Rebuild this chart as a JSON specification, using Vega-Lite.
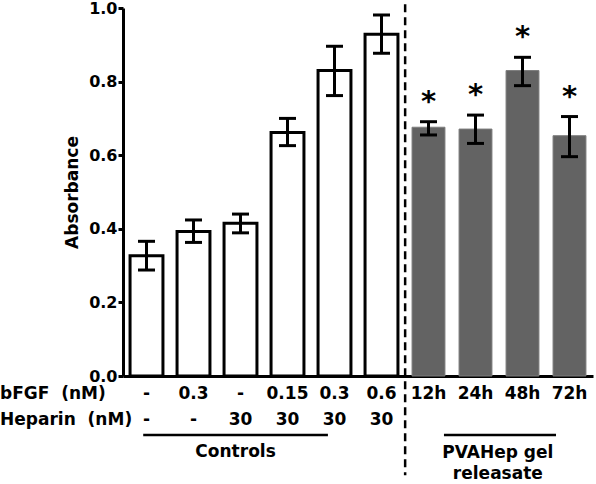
{
  "$schema": "https://vega.github.io/schema/vega-lite/v6.json",
  "width": 470,
  "height": 368,
  "padding": {"left": 0, "right": 3, "top": 0, "bottom": 0},
  "config": {
    "view": {"stroke": null},
    "font": "DejaVu Sans",
    "text": {"font": "DejaVu Sans", "fontWeight": "bold", "fontSize": 17, "color": "#000000"}
  },
  "datasets": {
    "bars": [
      {"id": "1", "group": "Controls", "mean": 0.327, "lo": 0.288, "hi": 0.366, "bfgf": "-", "heparin": "-", "star": false},
      {"id": "2", "group": "Controls", "mean": 0.393, "lo": 0.363, "hi": 0.424, "bfgf": "0.3", "heparin": "-", "star": false},
      {"id": "3", "group": "Controls", "mean": 0.415, "lo": 0.389, "hi": 0.44, "bfgf": "-", "heparin": "30", "star": false},
      {"id": "4", "group": "Controls", "mean": 0.662, "lo": 0.626, "hi": 0.7, "bfgf": "0.15", "heparin": "30", "star": false},
      {"id": "5", "group": "Controls", "mean": 0.83, "lo": 0.762, "hi": 0.896, "bfgf": "0.3", "heparin": "30", "star": false},
      {"id": "6", "group": "Controls", "mean": 0.929, "lo": 0.877, "hi": 0.981, "bfgf": "0.6", "heparin": "30", "star": false},
      {"id": "7", "group": "PVAHep", "mean": 0.676, "lo": 0.655, "hi": 0.691, "bfgf": "12h", "heparin": "", "star": true},
      {"id": "8", "group": "PVAHep", "mean": 0.671, "lo": 0.632, "hi": 0.709, "bfgf": "24h", "heparin": "", "star": true},
      {"id": "9", "group": "PVAHep", "mean": 0.83, "lo": 0.789, "hi": 0.866, "bfgf": "48h", "heparin": "", "star": true},
      {"id": "10", "group": "PVAHep", "mean": 0.653, "lo": 0.596, "hi": 0.705, "bfgf": "72h", "heparin": "", "star": true}
    ]
  },
  "layer": [
    {
      "data": {"name": "bars"},
      "mark": {"type": "bar"},
      "encoding": {
        "x": {
          "field": "id", "type": "nominal", "sort": null,
          "scale": {"domain": ["1","2","3","4","5","6","7","8","9","10"], "paddingInner": 0.3, "paddingOuter": 0.15},
          "axis": {"labels": false, "ticks": false, "title": null, "domainWidth": 3, "domainColor": "#000000"}
        },
        "y": {
          "field": "mean", "type": "quantitative",
          "scale": {"domain": [0, 1], "nice": false},
          "axis": {
            "title": "Absorbance", "values": [0, 0.2, 0.4, 0.6, 0.8, 1.0], "format": ".1f", "grid": false,
            "domainWidth": 3, "domainColor": "#000000", "tickWidth": 3, "tickSize": 5, "tickColor": "#000000",
            "labelFont": "DejaVu Sans", "labelFontWeight": "bold", "labelFontSize": 16, "labelColor": "#000000", "labelPadding": 1,
            "titleFont": "DejaVu Sans", "titleFontWeight": "bold", "titleFontSize": 17, "titleColor": "#000000", "titlePadding": 7
          }
        },
        "fill": {"field": "group", "type": "nominal", "scale": {"domain": ["Controls", "PVAHep"], "range": ["#ffffff", "#636363"]}, "legend": null},
        "stroke": {"field": "group", "type": "nominal", "scale": {"domain": ["Controls", "PVAHep"], "range": ["#000000", "#7d7d7d"]}, "legend": null},
        "strokeWidth": {"condition": {"test": "datum.group === 'Controls'", "value": 3}, "value": 1}
      }
    },
    {
      "data": {"name": "bars"},
      "mark": {"type": "rule", "color": "#000000", "strokeWidth": 3},
      "encoding": {
        "x": {"field": "id", "type": "nominal"},
        "y": {"field": "lo", "type": "quantitative", "scale": {"domain": [0, 1], "nice": false}},
        "y2": {"field": "hi"}
      }
    },
    {
      "data": {"name": "bars"},
      "mark": {"type": "tick", "color": "#000000", "size": 17, "thickness": 3, "opacity": 1},
      "encoding": {
        "x": {"field": "id", "type": "nominal"},
        "y": {"field": "lo", "type": "quantitative", "scale": {"domain": [0, 1], "nice": false}}
      }
    },
    {
      "data": {"name": "bars"},
      "mark": {"type": "tick", "color": "#000000", "size": 17, "thickness": 3, "opacity": 1},
      "encoding": {
        "x": {"field": "id", "type": "nominal"},
        "y": {"field": "hi", "type": "quantitative", "scale": {"domain": [0, 1], "nice": false}}
      }
    },
    {
      "data": {"name": "bars"},
      "transform": [{"filter": "datum.star"}],
      "mark": {"type": "text", "fontSize": 29, "baseline": "alphabetic", "dy": -11},
      "encoding": {
        "x": {"field": "id", "type": "nominal"},
        "y": {"field": "hi", "type": "quantitative", "scale": {"domain": [0, 1], "nice": false}},
        "text": {"value": "*"}
      }
    },
    {
      "data": {"name": "bars"},
      "mark": {"type": "text", "baseline": "middle", "dy": 2},
      "encoding": {
        "x": {"field": "id", "type": "nominal"},
        "y": {"datum": -0.0435, "type": "quantitative", "scale": {"domain": [0, 1], "nice": false}},
        "text": {"field": "bfgf"}
      }
    },
    {
      "data": {"name": "bars"},
      "mark": {"type": "text", "baseline": "middle", "dy": 1},
      "encoding": {
        "x": {"field": "id", "type": "nominal"},
        "y": {"datum": -0.117, "type": "quantitative", "scale": {"domain": [0, 1], "nice": false}},
        "text": {"field": "heparin"}
      }
    },
    {
      "data": {"values": [{"t": "bFGF\u00a0 (nM)"}]},
      "mark": {"type": "text", "baseline": "middle", "align": "left", "dx": -130, "dy": 2},
      "encoding": {
        "x": {"datum": "1", "type": "nominal", "bandPosition": 0},
        "y": {"datum": -0.0435, "type": "quantitative", "scale": {"domain": [0, 1], "nice": false}},
        "text": {"field": "t"}
      }
    },
    {
      "data": {"values": [{"t": "Heparin\u00a0 (nM)"}]},
      "mark": {"type": "text", "baseline": "middle", "align": "left", "dx": -130, "dy": 1},
      "encoding": {
        "x": {"datum": "1", "type": "nominal", "bandPosition": 0},
        "y": {"datum": -0.117, "type": "quantitative", "scale": {"domain": [0, 1], "nice": false}},
        "text": {"field": "t"}
      }
    },
    {
      "data": {"values": [{"t": "Controls"}]},
      "mark": {"type": "rule", "color": "#000000", "strokeWidth": 2.5},
      "encoding": {
        "x": {"datum": "1", "type": "nominal", "bandPosition": 0.4},
        "x2": {"datum": "5", "bandPosition": 0.3},
        "y": {"datum": -0.16, "type": "quantitative", "scale": {"domain": [0, 1], "nice": false}}
      }
    },
    {
      "data": {"values": [{"t": "Controls"}]},
      "mark": {"type": "text", "baseline": "middle", "dy": 1},
      "encoding": {
        "x": {"datum": "3", "type": "nominal", "bandPosition": 0.35},
        "y": {"datum": -0.204, "type": "quantitative", "scale": {"domain": [0, 1], "nice": false}},
        "text": {"field": "t"}
      }
    },
    {
      "data": {"values": [{"t": "PVAHep"}]},
      "mark": {"type": "rule", "color": "#000000", "strokeWidth": 2.5},
      "encoding": {
        "x": {"datum": "7", "type": "nominal", "bandPosition": 0.97},
        "x2": {"datum": "10", "bandPosition": 0.09},
        "y": {"datum": -0.16, "type": "quantitative", "scale": {"domain": [0, 1], "nice": false}}
      }
    },
    {
      "data": {"values": [{"t": "PVAHep gel"}]},
      "mark": {"type": "text", "baseline": "middle", "dy": 0},
      "encoding": {
        "x": {"datum": "8", "type": "nominal", "bandPosition": 1.18},
        "y": {"datum": -0.21, "type": "quantitative", "scale": {"domain": [0, 1], "nice": false}},
        "text": {"field": "t"}
      }
    },
    {
      "data": {"values": [{"t": "releasate"}]},
      "mark": {"type": "text", "baseline": "middle", "dy": 0},
      "encoding": {
        "x": {"datum": "8", "type": "nominal", "bandPosition": 1.18},
        "y": {"datum": -0.266, "type": "quantitative", "scale": {"domain": [0, 1], "nice": false}},
        "text": {"field": "t"}
      }
    },
    {
      "data": {"values": [{"t": "divider"}]},
      "mark": {"type": "rule", "color": "#000000", "strokeWidth": 2.5, "strokeDash": [8, 5]},
      "encoding": {
        "x": {"datum": "7", "type": "nominal", "bandPosition": -0.21},
        "y": {"datum": 1.01, "type": "quantitative", "scale": {"domain": [0, 1], "nice": false}},
        "y2": {"datum": -0.27}
      }
    }
  ]
}
